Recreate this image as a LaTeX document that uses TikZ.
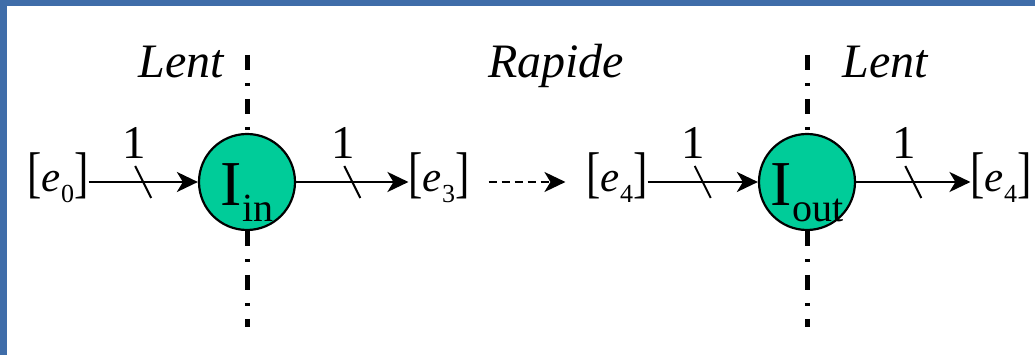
\documentclass[tikz,border=0pt]{standalone}
\usepackage{fontspec}
\setmainfont{Liberation Serif}
\usepackage{tikz}
\usetikzlibrary{arrows.meta,decorations.markings,positioning}
\definecolor{dframe}{HTML}{3F6DA9}
\definecolor{dgreen}{HTML}{00CC99}
\newcommand{\sig}[2]{\scalebox{1}[1.3]{[}\textit{#1}\raisebox{-11pt}{\fontsize{26}{26}\selectfont #2}\scalebox{1}[1.3]{]}}
\newcommand{\iface}[1]{I\raisebox{-16pt}{\fontsize{40}{40}\selectfont #1}}
\tikzset{
  >={Stealth[length=21pt,width=20pt,inset=6pt]},
  dsig/.style={font=\fontsize{43}{43}\selectfont, inner sep=0pt,
               text height=36pt, text depth=16pt},
  dport/.style={circle, draw=black, fill=dgreen, line width=2.2pt,
                minimum size=96pt, inner sep=0pt},
  dportlbl/.style={font=\fontsize{64}{64}\selectfont, inner sep=0pt, anchor=base},
  dzone/.style={font=\fontsize{48}{48}\selectfont\itshape, inner sep=0pt, anchor=base},
  dcut/.style={line width=5pt, dash pattern=on 15pt off 13pt on 3pt off 13pt},
  dbus/.style={->, line width=2.6pt,
               postaction={decorate, decoration={markings,
                 mark=at position 0.5 with {\draw[-, line width=2pt] (-8pt,16pt) -- (8pt,-16pt);}}}},
  dwidth/.style={font=\fontsize{47}{47}\selectfont, inner sep=0pt,
                 xshift=-9pt, yshift=39pt},
  dlink/.style={->, line width=2pt, dash pattern=on 8pt off 5pt,
                shorten <=19pt, shorten >=21pt},
}
\begin{document}
\begin{tikzpicture}[x=1pt,y=1pt]

  % fond
  \fill[dframe] (0,0) rectangle (1035,355);
  \fill[white] (7,0) rectangle (1035,349);

  % frontieres entre domaines
  \draw[dcut] (247,300) -- (247,28);
  \draw[dcut] (807,300) -- (807,28);

  \node[dzone] (lentin) at (181,277) {Lent};
  \node[dzone] (rapide) at (556,277) {Rapide};
  \node[dzone] (lentout) at (885,277) {Lent};

  % signaux et interfaces
  \node[dsig] (e0) at (58,173) {\sig{e}{0}};
  \node[dport] (iin) at (247,173) {};
  \node[dsig] (e3) at (439,173) {\sig{e}{3}};
  \node[dsig] (e4) at (617,173) {\sig{e}{4}};
  \node[dport] (iout) at (807,173) {};
  \node[dsig] (e4b) at (1001,173) {\sig{e}{4}};

  \node[dportlbl] (iinlbl) at ([yshift=-24pt]iin.center) {\iface{in}};
  \node[dportlbl] (ioutlbl) at ([yshift=-24pt]iout.center) {\iface{out}};

  \draw[dbus] (e0) -- node[dwidth] (w1) {1} (iin);
  \draw[dbus] (iin) -- node[dwidth] (w2) {1} (e3);
  \draw[dlink] (e3) -- (e4);
  \draw[dbus] (e4) -- node[dwidth] (w3) {1} (iout);
  \draw[dbus] (iout) -- node[dwidth] (w4) {1} (e4b);

\end{tikzpicture}
\end{document}
